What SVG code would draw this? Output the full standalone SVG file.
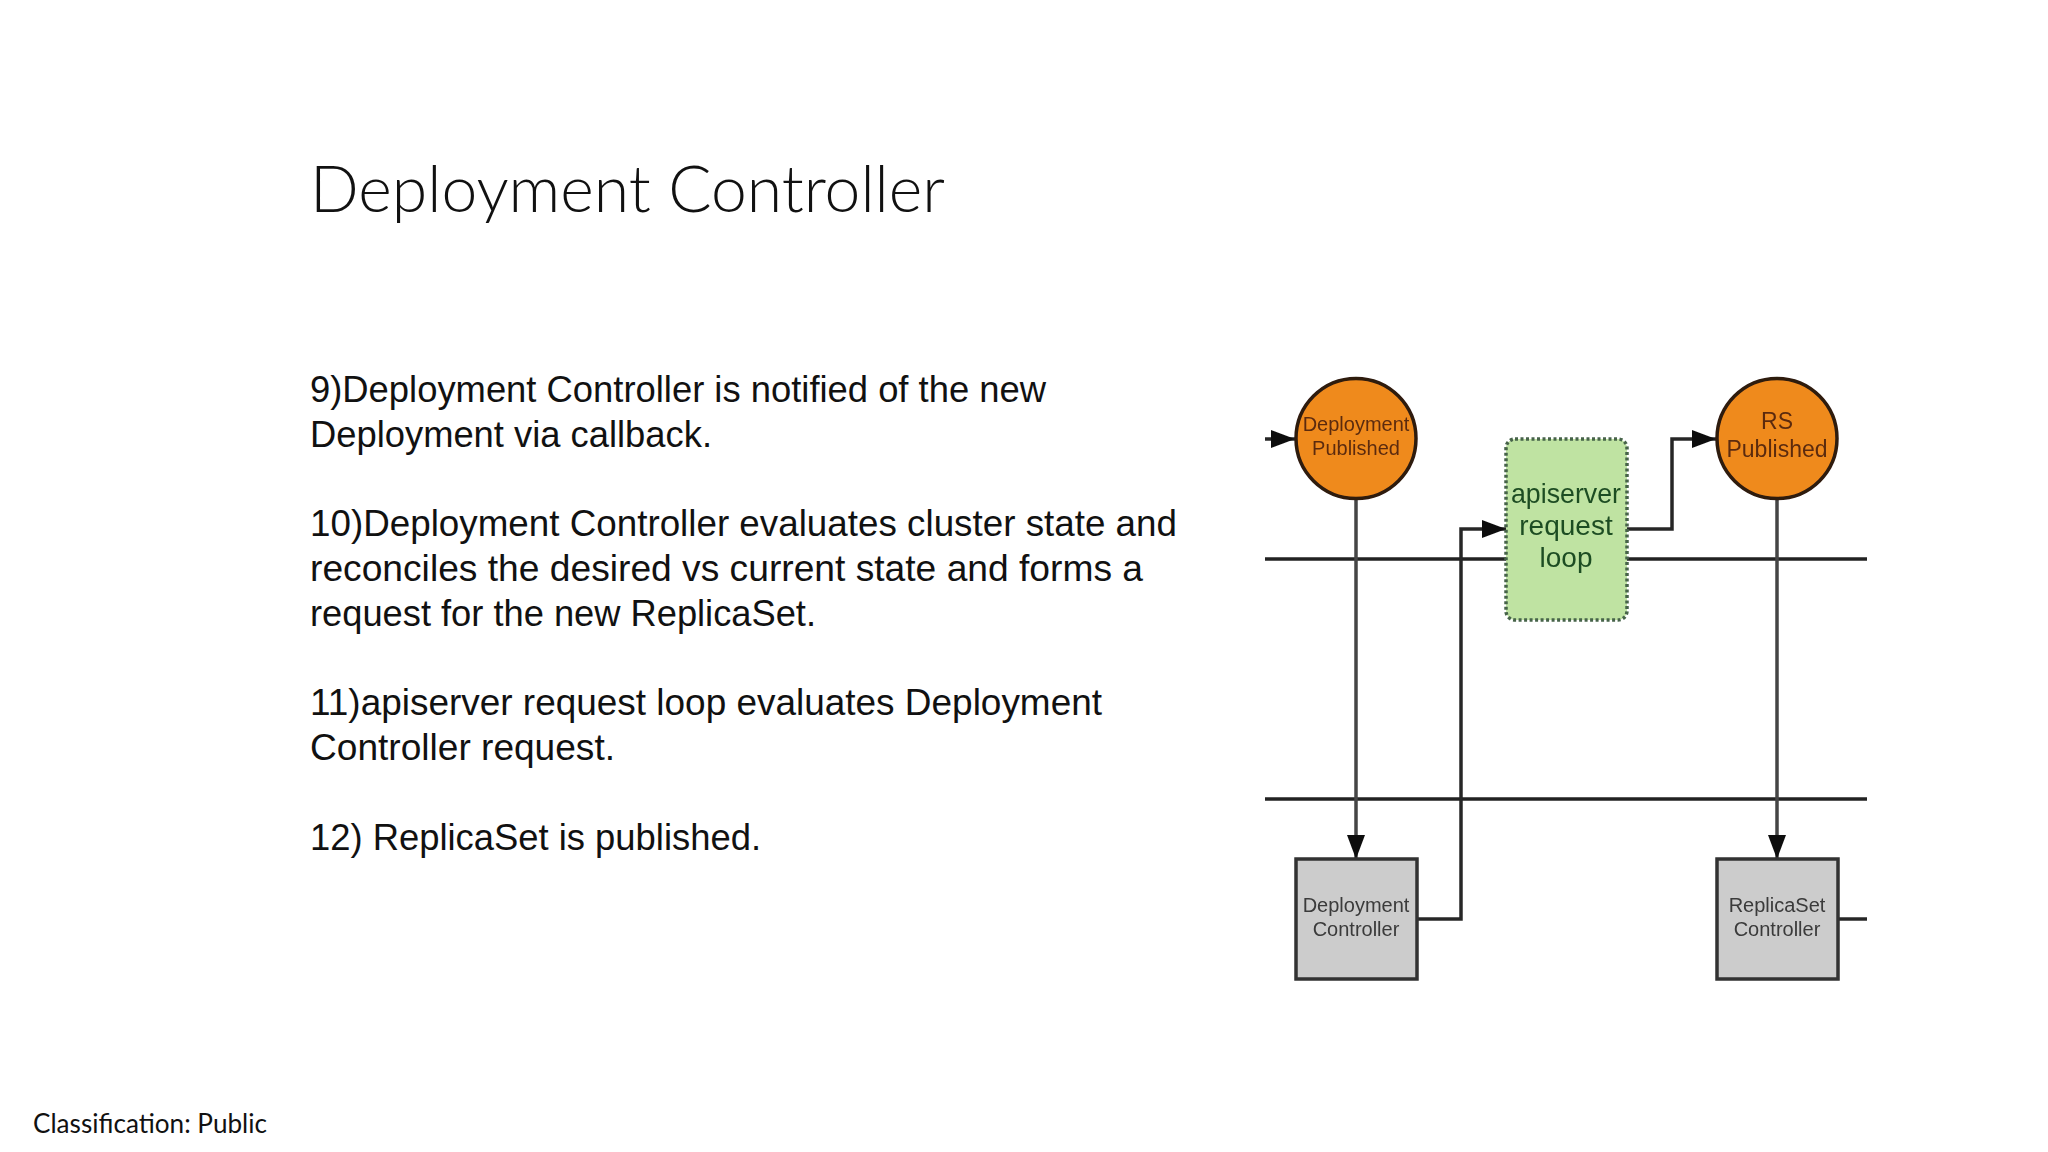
<svg xmlns="http://www.w3.org/2000/svg" width="2048" height="1152" viewBox="0 0 2048 1152">
<style>
.title{font-family:"Lato","Liberation Sans",sans-serif;font-weight:300;font-size:65px;fill:#111}
.body{font-family:"Liberation Sans",Arial,sans-serif;font-size:36px;fill:#111}
.foot{font-family:"Lato","Liberation Sans",sans-serif;font-size:26px;fill:#111}
.lab{font-family:"Liberation Sans",Arial,sans-serif;text-anchor:middle}
.small{font-size:20px}
.mid{font-size:23px}
.big{font-size:28px;fill:#1f4d24}
.orange{fill:#5c2c10}
.grey{fill:#3a3a3a}
.conn{fill:none;stroke:#262626;stroke-width:3.5}
.drop{fill:none;stroke:#444;stroke-width:3.5}
.lane{fill:none;stroke:#222;stroke-width:3.5}
.node{stroke:#2e1a10;stroke-width:3.5}
</style>
<defs>
<marker id="arrow" markerUnits="userSpaceOnUse" markerWidth="25" markerHeight="20" refX="24" refY="10" orient="auto"><path d="M0 1L24 10L0 19Z" fill="#111"/></marker>
<filter id="soft" x="-5%" y="-5%" width="110%" height="110%"><feGaussianBlur stdDeviation="0.7"/></filter>
</defs>
<rect width="2048" height="1152" fill="#fff"/>
<text class="title" x="310" y="212" textLength="635" lengthAdjust="spacingAndGlyphs">Deployment Controller</text>
<g id="text-block">
<text class="body" x="310" y="402" textLength="736" lengthAdjust="spacingAndGlyphs">9)Deployment Controller is notified of the new</text>
<text class="body" x="310" y="447" textLength="402" lengthAdjust="spacingAndGlyphs">Deployment via callback.</text>
<text class="body" x="310" y="536" textLength="867" lengthAdjust="spacingAndGlyphs">10)Deployment Controller evaluates cluster state and</text>
<text class="body" x="310" y="581" textLength="833" lengthAdjust="spacingAndGlyphs">reconciles the desired vs current state and forms a</text>
<text class="body" x="310" y="626" textLength="506" lengthAdjust="spacingAndGlyphs">request for the new ReplicaSet.</text>
<text class="body" x="310" y="715" textLength="792" lengthAdjust="spacingAndGlyphs">11)apiserver request loop evaluates Deployment</text>
<text class="body" x="310" y="760" textLength="305" lengthAdjust="spacingAndGlyphs">Controller request.</text>
<text class="body" x="310" y="850" textLength="451" lengthAdjust="spacingAndGlyphs">12) ReplicaSet is published.</text>
</g>
<text class="foot" x="33" y="1133" textLength="234" lengthAdjust="spacingAndGlyphs">Classification: Public</text>
<g filter="url(#soft)">
<g id="connectors">
<path class="lane" d="M1265 559H1867"/>
<path class="lane" d="M1265 799H1867"/>
<path class="conn" d="M1265 439H1295" marker-end="url(#arrow)"/>
<path class="drop" d="M1356 498V859" marker-end="url(#arrow)"/>
<path class="drop" d="M1777 498V859" marker-end="url(#arrow)"/>
<path class="conn" d="M1417 919H1461V529H1506" marker-end="url(#arrow)"/>
<path class="conn" d="M1627 529H1672V439H1716" marker-end="url(#arrow)"/>
<path class="conn" d="M1838 919H1867"/>
</g>
<g id="deployment-published">
<circle class="node" cx="1356" cy="438.500" r="60" fill="#ef8a1d"/>
<text class="lab small orange" x="1356" y="431">Deployment</text>
<text class="lab small orange" x="1356" y="455">Published</text>
</g>
<g id="rs-published">
<circle class="node" cx="1777" cy="438.500" r="60" fill="#ef8a1d"/>
<text class="lab mid orange" x="1777" y="429">RS</text>
<text class="lab mid orange" x="1777" y="457">Published</text>
</g>
<g id="apiserver-request-loop">
<rect x="1506" y="439" width="121" height="181" rx="9" fill="#bfe3a2" stroke="#47644a" stroke-width="3.500" stroke-dasharray="3 2.500"/>
<text class="lab big" x="1566" y="503" textLength="110" lengthAdjust="spacingAndGlyphs">apiserver</text>
<text class="lab big" x="1566" y="535">request</text>
<text class="lab big" x="1566" y="567">loop</text>
</g>
<g id="deployment-controller">
<rect x="1296" y="859" width="121" height="120" fill="#cccccc" stroke="#333" stroke-width="3.500"/>
<text class="lab small grey" x="1356" y="912">Deployment</text>
<text class="lab small grey" x="1356" y="936">Controller</text>
</g>
<g id="replicaset-controller">
<rect x="1717" y="859" width="121" height="120" fill="#cccccc" stroke="#333" stroke-width="3.500"/>
<text class="lab small grey" x="1777" y="912">ReplicaSet</text>
<text class="lab small grey" x="1777" y="936">Controller</text>
</g>
</g>
</svg>
